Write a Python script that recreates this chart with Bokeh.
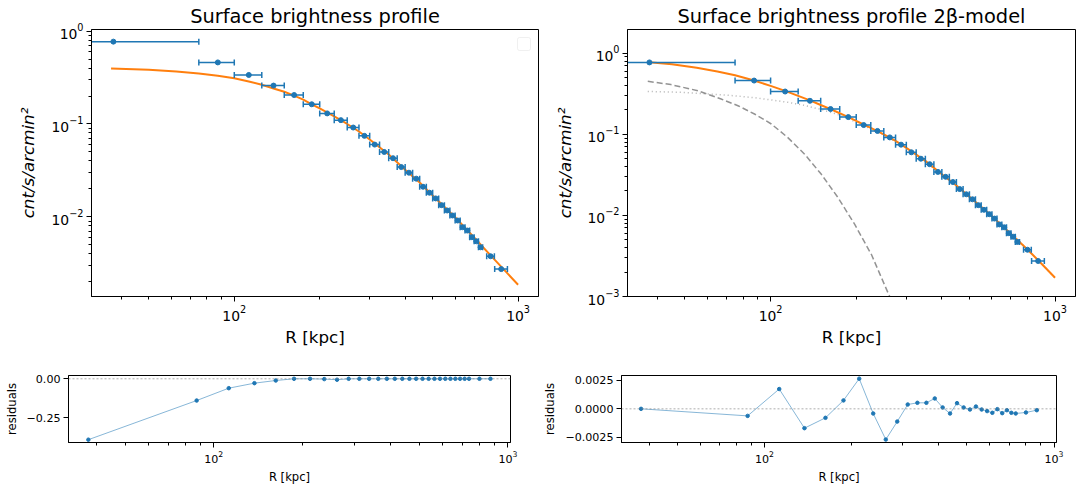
from bokeh.plotting import figure
from bokeh.models import (Span, FixedTicker, CustomJSTickFormatter, BoxAnnotation,
                          Range1d, Node)
from bokeh.layouts import column, row
from bokeh.embed import file_html
from bokeh.resources import INLINE

# ---------------- data ----------------
r_kpc = [37.5, 87.5, 112.5, 137.5, 162.5, 187.5, 212.5, 237.5, 262.5, 287.5,
         312.5, 337.5, 362.5, 387.5, 412.5, 437.5, 462.5, 487.5, 512.5, 537.5,
         562.5, 587.5, 612.5, 637.5, 662.5, 687.5, 712.5, 737.5, 800.0, 872.0]
r_halfwidth = [37.5, 12.5, 12.5, 12.5, 12.5, 12.5, 12.5, 12.5, 12.5, 12.5,
               12.5, 12.5, 12.5, 12.5, 12.5, 12.5, 12.5, 12.5, 12.5, 12.5,
               12.5, 12.5, 12.5, 12.5, 12.5, 12.5, 12.5, 12.5, 25.0, 45.0]
sb = [0.77, 0.46, 0.337, 0.259, 0.205, 0.163, 0.130, 0.110, 0.0916, 0.0745,
      0.060, 0.050, 0.0428, 0.0344, 0.0299, 0.0258, 0.0211, 0.0182, 0.0158, 0.01337,
      0.01172, 0.01035, 0.00914, 0.00774, 0.00713, 0.00604, 0.00546, 0.00471, 0.00377, 0.00274]

# single beta-model curve (left panel)
beta_r = [36.8, 50, 62.5, 75, 87.5, 100, 112.5, 125, 137.5, 150, 162.5, 175, 187.5, 200,
          225, 250, 275, 300, 350, 400, 450, 500, 600, 700, 800, 900, 1000]
beta_sb = [0.395, 0.383, 0.368, 0.350, 0.331, 0.310, 0.287, 0.264, 0.241, 0.222, 0.202,
           0.183, 0.163, 0.147, 0.121, 0.100, 0.083, 0.068, 0.047, 0.0322, 0.0234, 0.0170,
           0.0099, 0.0060, 0.00385, 0.00262, 0.00186]

# double beta-model (right panel): total, inner and outer components
tot_r = [37.5, 45, 55, 65, 75, 87.5, 100, 112.5, 125, 137.5, 150, 162.5, 175, 187.5, 200,
         225, 250, 275, 300, 350, 400, 450, 500, 600, 700, 800, 900, 1000]
tot_sb = [0.775, 0.73, 0.66, 0.595, 0.535, 0.46, 0.395, 0.343, 0.298, 0.262, 0.230, 0.204,
          0.182, 0.163, 0.146, 0.120, 0.100, 0.083, 0.068, 0.047, 0.0322, 0.0234, 0.0170,
          0.0098, 0.0059, 0.0038, 0.0025, 0.0017]
inner_r = [37.0, 44.6, 55.5, 67.0, 76.8, 87.8, 100.6, 115.0, 131.7, 150.8, 172.7, 197.6,
           226.2, 258.9, 264.0]
inner_sb = [0.45, 0.41, 0.345, 0.272, 0.225, 0.178, 0.134, 0.091, 0.0569, 0.0321, 0.0165,
            0.00774, 0.00329, 0.0011, 0.00095]
outer_r = [37.0, 50, 62, 75, 87.5, 100, 115, 130, 150, 175, 200, 250, 300, 400, 500, 600,
           700, 800, 900, 1000]
outer_sb = [0.338, 0.328, 0.313, 0.298, 0.283, 0.266, 0.248, 0.229, 0.203, 0.173, 0.141,
            0.098, 0.0675, 0.0321, 0.0170, 0.0098, 0.0059, 0.0038, 0.0025, 0.0017]

# residuals
res_single = [-0.389, -0.139, -0.060, -0.028, -0.011, 0.0, 0.0, -0.002, -0.006, 0.0,
              0.0, 0.0, 0.0, 0.0, 0.0, 0.0, 0.0, 0.0, 0.0, 0.0,
              0.0, 0.0, 0.0, 0.0, 0.0, 0.0, 0.0, 0.0, 0.0, 0.0]
res_double = [0.0, -0.00062, 0.00174, -0.0017, -0.00079, 0.00074, 0.00265, -0.00041, -0.0027, -0.00112,
              0.00038, 0.00053, 0.00053, 0.00091, 0.00012, -0.00041, 0.0005, 0.00012, -0.00006, 0.0002,
              -0.00006, -0.0002, -0.00035, -0.00003, -0.00038, -0.00012, -0.00035, -0.00041, -0.00032, -0.00012]

# ---------------- styling helpers ----------------
FONT = "DejaVu Sans"
BLUE = "#1f77b4"
ORANGE = "#ff7f0e"
decades = [1e-4, 1e-3, 1e-2, 1e-1, 1e0, 1e1, 1e2, 1e3, 1e4]
minor_log = [m * d for d in decades for m in range(2, 10)]


def style(p, tick_size, label_size):
    p.outline_line_color = "black"
    p.outline_line_width = 1
    p.grid.visible = False
    p.background_fill_color = "white"
    p.border_fill_color = "white"
    for ax in p.axis:
        ax.axis_line_color = "black"
        ax.major_tick_line_color = "black"
        ax.minor_tick_line_color = "black"
        ax.major_tick_in = 0
        ax.major_tick_out = 5
        ax.minor_tick_in = 0
        ax.minor_tick_out = 3
        ax.major_label_text_font = FONT
        ax.major_label_text_font_size = tick_size
        ax.major_label_text_color = "black"
        ax.axis_label_text_font = FONT
        ax.axis_label_text_font_size = label_size
        ax.axis_label_text_font_style = "normal"
        ax.axis_label_text_color = "black"
        ax.major_label_standoff = 3
        ax.axis_label_standoff = 1
    p.xaxis.ticker = FixedTicker(ticks=decades, minor_ticks=minor_log)


def style_title(p):
    p.title.text_font = FONT
    p.title.text_font_size = "19.4px"
    p.title.text_font_style = "normal"
    p.title.align = "center"
    p.title.text_color = "black"
    p.title.standoff = 3


def top_panel(title, yr, mb_left, mb_right, fw, ylabel_standoff):
    p = figure(x_axis_type="log", y_axis_type="log", title=title,
               frame_width=fw, frame_height=267,
               min_border_left=mb_left, min_border_right=mb_right,
               min_border_top=29, min_border_bottom=54,
               x_range=Range1d(31.4, 1180), y_range=yr,
               output_backend="svg", toolbar_location=None)
    style(p, "13.9px", "16.7px")
    style_title(p)
    p.yaxis.ticker = FixedTicker(ticks=decades, minor_ticks=minor_log)
    p.xaxis.axis_label = "R [kpc]"
    p.xaxis.axis_label_standoff = 3
    p.yaxis.axis_label = "cnt/s/arcmin\u00b2"
    p.yaxis.axis_label_text_font_style = "italic"
    p.yaxis.axis_label_standoff = ylabel_standoff
    return p


def draw_data(p):
    lo = [x - h if x - h > 0 else 1.0 for x, h in zip(r_kpc, r_halfwidth)]
    hi = [x + h for x, h in zip(r_kpc, r_halfwidth)]
    p.segment(x0=lo, y0=sb, x1=hi, y1=sb, line_color=BLUE, line_width=1.5)
    p.scatter(lo, sb, marker="dash", angle=1.5708, size=6, line_color=BLUE, line_width=1.5)
    p.scatter(hi, sb, marker="dash", angle=1.5708, size=6, line_color=BLUE, line_width=1.5)
    p.scatter(r_kpc, sb, size=5, color=BLUE)


# ---------------- top-left: single beta ----------------
p1 = top_panel("Surface brightness profile", Range1d(1.39e-3, 1.04), 91, 12, 447, 10)
p1.line(beta_r, beta_sb, line_color=ORANGE, line_width=2)
draw_data(p1)
legend_box = BoxAnnotation(
    left=Node(target="frame", symbol="right", offset=-21),
    right=Node(target="frame", symbol="right", offset=-8),
    top=Node(target="frame", symbol="top", offset=8),
    bottom=Node(target="frame", symbol="top", offset=21),
    fill_color="white", fill_alpha=0.8, line_color="#cccccc", line_width=1,
    border_radius=2)
p1.add_layout(legend_box)

# ---------------- top-right: double beta ----------------
p2 = top_panel("Surface brightness profile 2\u03b2-model", Range1d(1e-3, 1.96), 77, 9, 448, 9)
p2.line(inner_r, inner_sb, line_color="gray", line_width=1.5, line_dash="6 3", line_alpha=0.85)
p2.line(outer_r, outer_sb, line_color="gray", line_width=1.5, line_dash="1 3", line_alpha=0.6)
p2.line(tot_r, tot_sb, line_color=ORANGE, line_width=2)
draw_data(p2)


# ---------------- residual panels ----------------
def res_panel(res, yr, ticks, digits, mb_left, mb_right, fw):
    p = figure(x_axis_type="log", frame_width=fw, frame_height=67,
               min_border_left=mb_left, min_border_right=mb_right,
               min_border_top=25, min_border_bottom=48,
               x_range=Range1d(32.1, 1020), y_range=yr,
               output_backend="svg", toolbar_location=None)
    style(p, "11.1px", "11.6px")
    p.yaxis.ticker = FixedTicker(ticks=ticks, minor_ticks=[])
    p.yaxis.formatter = CustomJSTickFormatter(
        code="return tick.toFixed(%d).replace('-', '\\u2212');" % digits)
    p.xaxis.axis_label = "R [kpc]"
    p.xaxis.axis_label_standoff = 4
    p.yaxis.axis_label = "residuals"
    p.yaxis.axis_label_standoff = 5
    p.add_layout(Span(location=0, dimension="width", line_color="gray",
                      line_width=0.8, line_dash="2 2", line_alpha=0.8))
    p.line(r_kpc, res, line_color=BLUE, line_width=0.9, line_alpha=0.6)
    p.scatter(r_kpc, res, size=3.5, color=BLUE)
    return p


p3 = res_panel(res_single, Range1d(-0.407, 0.021), [-0.25, 0.0], 2, 68, 30, 442)
p4 = res_panel(res_double, Range1d(-0.00296, 0.00293), [-0.0025, 0.0, 0.0025], 4, 77, 32, 435)

layout = column(row(p1, p2), row(p3, p4))
open("out.html", "w").write(file_html(layout, INLINE))
